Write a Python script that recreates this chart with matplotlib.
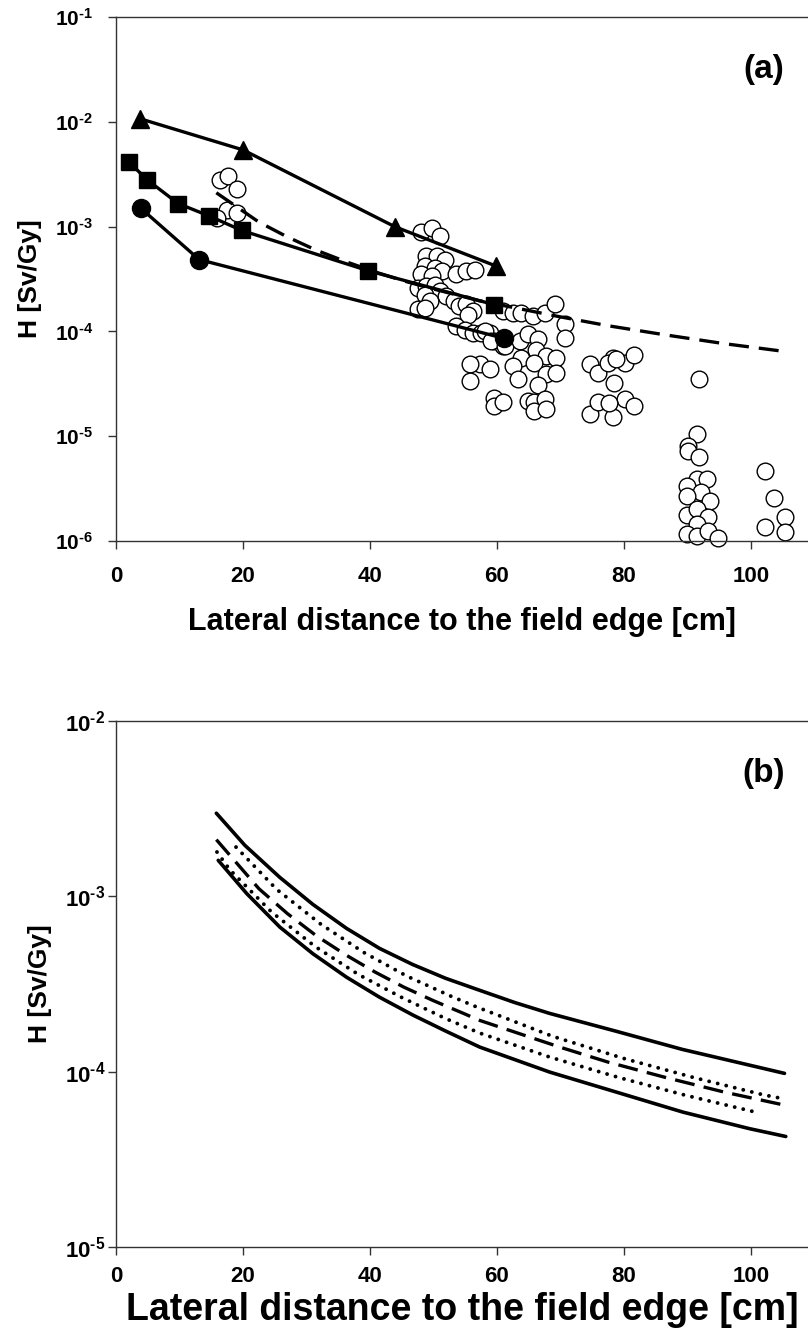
import numpy as np
import matplotlib
matplotlib.use("Agg")
import matplotlib.pyplot as plt
from matplotlib.ticker import FixedLocator, FuncFormatter, NullLocator

plt.rcParams.update({
    "font.family": ["Liberation Sans", "DejaVu Sans"],
    "font.weight": "bold",
    "mathtext.fontset": "custom",
    "mathtext.rm": "Liberation Sans:bold",
    "mathtext.it": "Liberation Sans:bold",
    "mathtext.bf": "Liberation Sans:bold",
    "axes.linewidth": 1.0,
})

# --- panel (a): measured points, cm / Sv per Gy ---
tri_x = [3.8, 20.0, 43.9, 59.9]
tri_h = [1.07e-2, 5.4e-3, 1.0e-3, 4.2e-4]

sq_x = [2.0, 4.9, 9.8, 14.6, 19.8, 39.7, 59.6]
sq_h = [4.16e-3, 2.8e-3, 1.66e-3, 1.27e-3, 9.2e-4, 3.8e-4, 1.8e-4]

dot_x = [3.9, 13.1, 61.1]
dot_h = [1.5e-3, 4.85e-4, 8.6e-5]

open_x = [16.4, 17.6, 19.0, 17.5, 19.0, 15.9,
          48.1, 49.8, 51.1, 48.9, 50.5, 51.8, 48.6, 50.2, 51.3, 48.1, 49.7, 53.6,
          55.2, 56.5, 47.6, 48.9, 50.2, 51.0, 52.0, 48.6, 49.4, 53.3, 54.1, 55.2,
          56.2, 47.6, 48.6, 55.4, 53.6, 54.9, 56.2, 57.5, 58.9, 59.6, 60.9, 60.9,
          62.5,
          63.8, 65.7, 67.5, 69.2, 70.7, 70.7, 58.1, 59.1, 61.2, 63.6, 64.9, 66.5,
          66.2, 67.8, 69.3, 63.8, 65.9, 62.5, 63.3, 67.8, 69.3, 66.5, 57.3, 58.9,
          59.6, 59.6, 60.9, 64.9, 65.9, 67.5, 65.9, 67.8, 74.6, 75.9, 74.6, 75.9,
          55.7, 55.7, 78.3, 80.1, 78.5, 78.3, 80.1, 77.5, 78.7, 81.6, 77.7, 81.6,
          91.8, 91.5, 90.1, 90.1, 91.8, 91.5, 93.1, 90.0, 92.1, 90.0, 93.5, 90.0,
          91.5, 93.2, 91.5, 90.0, 91.5, 93.2, 94.8,
          102.3, 103.7, 105.3, 102.3, 105.3]
open_h = [2.8e-3, 3.06e-3, 2.3e-3, 1.45e-3, 1.36e-3, 1.22e-3,
          8.9e-4, 9.7e-4, 8.1e-4, 5.2e-4, 5.2e-4, 4.85e-4, 4.2e-4, 4.05e-4, 3.75e-4,
          3.5e-4, 3.37e-4, 3.5e-4, 3.75e-4, 3.9e-4, 2.6e-4, 2.7e-4, 2.8e-4, 2.42e-4,
          2.17e-4, 2.25e-4, 1.95e-4, 1.95e-4, 1.74e-4, 1.81e-4, 1.56e-4, 1.62e-4,
          1.68e-4, 1.45e-4, 1.12e-4, 1.04e-4, 9.7e-5, 9.7e-5, 9.7e-5, 8.1e-5,
          7.25e-5, 1.56e-4, 1.51e-4,
          1.51e-4, 1.4e-4, 1.51e-4, 1.81e-4, 1.17e-4, 8.7e-5, 1.0e-4, 8.1e-5,
          7.25e-5, 8.1e-5, 9.4e-5, 8.4e-5, 6.7e-5, 5.8e-5, 5.6e-5, 5.6e-5, 5.0e-5,
          4.7e-5, 3.5e-5, 3.9e-5, 4.05e-5, 3.1e-5, 4.85e-5, 4.35e-5, 2.34e-5,
          1.95e-5, 2.1e-5, 2.17e-5, 2.1e-5, 2.25e-5, 1.74e-5, 1.81e-5, 4.85e-5,
          4.05e-5, 1.62e-5, 2.1e-5, 4.85e-5, 3.37e-5, 5.6e-5, 5.0e-5, 3.24e-5,
          1.51e-5, 2.25e-5, 5.0e-5, 5.5e-5, 6.0e-5, 2.06e-5, 1.95e-5,
          3.5e-5, 1.04e-5, 8.1e-6, 7.25e-6, 6.3e-6, 3.95e-6, 3.95e-6, 3.37e-6,
          2.95e-6, 2.7e-6, 2.42e-6, 1.77e-6, 2.02e-6, 1.68e-6, 1.45e-6, 1.17e-6,
          1.11e-6, 1.25e-6, 1.06e-6,
          4.7e-6, 2.6e-6, 1.68e-6, 1.35e-6, 1.21e-6]

# --- model curve (dashed in both panels) and its bands in (b) ---
mid_x = [15.8, 22.5, 27.0, 31.6, 36.3, 40.8, 45.3, 49.9, 54.6, 57.3, 69.9,
         77.5, 86.7, 95.8, 105.0]
mid_h = [2.106e-3, 1.106e-3, 7.97e-4, 5.94e-4, 4.61e-4, 3.70e-4, 3.04e-4,
         2.55e-4, 2.16e-4, 1.96e-4, 1.381e-4, 1.134e-4, 9.24e-5, 7.65e-5, 6.48e-5]

up_solid_x = [15.8, 20.3, 25.8, 31.0, 36.3, 41.5, 46.7, 51.9, 57.3,
              62.8, 68.3, 78.8, 89.2, 105.3]
up_solid_h = [2.98e-3, 1.954e-3, 1.283e-3, 9.0e-4, 6.57e-4, 5.05e-4,
              4.09e-4, 3.41e-4, 2.91e-4, 2.48e-4, 2.15e-4, 1.70e-4, 1.34e-4,
              9.78e-5]

up_dot_x = [18.9, 25.3, 32.3, 39.1, 45.8, 52.8, 56.8, 68.8, 80.1, 91.1, 101.9, 104.6]
up_dot_h = [1.91e-3, 1.096e-3, 6.92e-4, 4.77e-4, 3.51e-4, 2.69e-4, 2.34e-4,
            1.59e-4, 1.186e-4, 9.24e-5, 7.39e-5, 7.07e-5]

lo_dot_x = [15.9, 17.9, 24.5, 31.3, 38.2, 45.1, 51.9, 57.3, 68.3, 79.3, 89.8, 101.1]
lo_dot_h = [1.79e-3, 1.42e-3, 8.14e-4, 5.19e-4, 3.58e-4, 2.64e-4, 2.01e-4,
            1.66e-4, 1.212e-4, 9.24e-5, 7.32e-5, 5.84e-5]

lo_solid_x = [16.1, 20.6, 25.8, 31.0, 36.3, 41.5, 46.8, 52.0, 57.3, 68.3,
              78.8, 89.3, 99.8, 105.5]
lo_solid_h = [1.605e-3, 1.036e-3, 6.68e-4, 4.71e-4, 3.46e-4, 2.66e-4, 2.10e-4,
              1.70e-4, 1.381e-4, 9.95e-5, 7.65e-5, 5.88e-5, 4.73e-5, 4.27e-5]

x_ticks = [0, 20, 40, 60, 80, 100]
xlabel = "Lateral distance to the field edge [cm]"
ylabel = "H [Sv/Gy]"


def decade(v, pos):
    # short hyphen in the exponent instead of the mathtext minus
    return "$10^{\u2010%d}$" % abs(int(round(np.log10(v))))


def style_axes(ax, ymin_exp, ymax_exp, xpad, ypad, ysize, xlab_size, lab_pad):
    ax.set_yscale("log")
    ax.set_xlim(0, 109)
    ax.set_ylim(10.0 ** ymin_exp, 10.0 ** ymax_exp)
    ax.xaxis.set_major_locator(FixedLocator(x_ticks))
    ax.yaxis.set_major_locator(FixedLocator([10.0 ** e for e in range(ymin_exp, ymax_exp + 1)]))
    ax.yaxis.set_major_formatter(FuncFormatter(decade))
    ax.yaxis.set_minor_locator(NullLocator())
    ax.spines["right"].set_visible(False)
    for s in ax.spines.values():
        s.set_color("#333333")
    ax.tick_params(direction="out", length=6, width=1, color="#333333",
                   top=False, right=False)
    ax.tick_params(axis="x", labelsize=16, pad=xpad)
    ax.tick_params(axis="y", labelsize=ysize, pad=ypad)
    ax.set_xlabel(xlabel, fontsize=xlab_size, fontweight="bold", labelpad=lab_pad)
    ax.set_ylabel(ylabel, fontsize=19, fontweight="bold", labelpad=9)


fig = plt.figure(figsize=(8.08, 13.32), dpi=100)
ax1 = fig.add_axes([0.1436, 0.5938, 0.8564, 0.3934])
ax2 = fig.add_axes([0.1436, 0.0638, 0.8564, 0.3949])

# (a)
ax1.plot(open_x, open_h, "o", ms=12, mfc="white", mec="black", mew=1.0,
         ls="none", zorder=2, clip_on=False)
ax1.plot(mid_x, mid_h, color="black", lw=2.4, ls=(0, (6, 3)), zorder=3)
ax1.plot(tri_x, tri_h, "-^", color="black", lw=2.4, ms=13, zorder=4, clip_on=False)
ax1.plot(sq_x, sq_h, "-s", color="black", lw=2.4, ms=12, zorder=4, clip_on=False)
ax1.plot(dot_x, dot_h, "-o", color="black", lw=2.4, ms=13, zorder=4, clip_on=False)
style_axes(ax1, -6, -1, 12, 10.5, 15, 22, 14)
ax1.text(0.936, 0.9, "(a)", transform=ax1.transAxes, fontsize=24,
         fontweight="bold", ha="center", va="center")

# (b)
ax2.plot(up_solid_x, up_solid_h, color="black", lw=2.6, solid_capstyle="round")
ax2.plot(lo_solid_x, lo_solid_h, color="black", lw=2.6, solid_capstyle="round")
ax2.plot(mid_x, mid_h, color="black", lw=2.4, ls=(0, (6, 2.8)))
ax2.plot(up_dot_x, up_dot_h, color="black", lw=2.8, ls=(0, (0.01, 2.25)),
         dash_capstyle="round")
ax2.plot(lo_dot_x, lo_dot_h, color="black", lw=2.8, ls=(0, (0.01, 2.25)),
         dash_capstyle="round")
style_axes(ax2, -5, -2, 8, 1.5, 16, 27, 3)
ax2.text(0.936, 0.9, "(b)", transform=ax2.transAxes, fontsize=24,
         fontweight="bold", ha="center", va="center")

fig.savefig("out.png", dpi=100)
